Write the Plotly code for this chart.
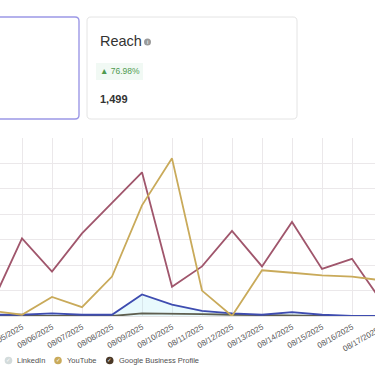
import plotly.graph_objects as go

W, H = 375, 366

dates = ["2025-08-04", "2025-08-05", "2025-08-06", "2025-08-07", "2025-08-08",
         "2025-08-09", "2025-08-10", "2025-08-11", "2025-08-12", "2025-08-13",
         "2025-08-14", "2025-08-15", "2025-08-16", "2025-08-17"]
instagram = [10, 61, 35, 65, 89, 113, 23, 39, 67, 39, 74, 37, 45, 11]
youtube = [4, 1, 15, 7, 31, 87, 124, 20, 0, 36, 34, 32, 31, 28]
facebook = [1, 1, 2, 1, 1, 17, 9, 4, 2, 1, 3, 1, 0, 0]
gbp = [0, 0, 0, 0, 0, 2, 2, 1.5, 1, 0.5, 0.5, 0, 0, 0]

legend_names = ["LinkedIn", "YouTube", "Google Business Profile"]
card_title = "Reach"
card_change = "▲ 76.98%"
card_value = "1,499"
last_tick_label = "08/17/2025"

C_INSTA = "#a0566c"
C_YT = "#c9aa5a"
C_FB = "#3e4cb0"
C_GBP = "#5a4630"
FONT = "Liberation Sans, Arial, sans-serif"
TICK_SIZE = 8


def px(x):
    return x / W


def py(y):
    return 1 - y / H


def rrect(x0, y0, x1, y1, r):
    pts = [
        ("M", [(x0 + r, y0)]), ("L", [(x1 - r, y0)]), ("Q", [(x1, y0), (x1, y0 + r)]),
        ("L", [(x1, y1 - r)]), ("Q", [(x1, y1), (x1 - r, y1)]), ("L", [(x0 + r, y1)]),
        ("Q", [(x0, y1), (x0, y1 - r)]), ("L", [(x0, y0 + r)]), ("Q", [(x0, y0), (x0 + r, y0)]),
    ]
    s = ""
    for cmd, cs in pts:
        s += cmd + " " + " ".join(f"{px(a):.5f},{py(b):.5f}" for a, b in cs) + " "
    return s + "Z"


fig = go.Figure()
fig.add_trace(go.Scatter(x=dates, y=gbp, mode="lines", name="Google Business Profile",
                         line=dict(color=C_GBP, width=1.8)))
fig.add_trace(go.Scatter(x=dates, y=facebook, mode="lines", name="Facebook",
                         line=dict(color=C_FB, width=1.8), fill="tozeroy",
                         fillcolor="rgba(120,225,245,0.16)"))
fig.add_trace(go.Scatter(x=dates, y=instagram, mode="lines", name="Instagram",
                         line=dict(color=C_INSTA, width=1.8)))
fig.add_trace(go.Scatter(x=dates, y=youtube, mode="lines", name="YouTube",
                         line=dict(color=C_YT, width=1.8)))

shapes = []
annotations = []

# cards
shapes.append(dict(type="path", xref="paper", yref="paper",
                   path=rrect(-20, 17, 79, 119, 4),
                   line=dict(color="#9c98e6", width=1.4), fillcolor="white", layer="below"))
shapes.append(dict(type="path", xref="paper", yref="paper",
                   path=rrect(87, 17, 297, 119, 4),
                   line=dict(color="#e4e4e4", width=1), fillcolor="white", layer="below"))
# change badge background
shapes.append(dict(type="rect", xref="paper", yref="paper",
                   x0=px(96), x1=px(143), y0=py(80), y1=py(63),
                   line=dict(width=0), fillcolor="#f1f9f4", layer="below"))
# info icon
shapes.append(dict(type="circle", xref="paper", yref="paper",
                   x0=px(144), x1=px(151), y0=py(45.5), y1=py(38.5),
                   line=dict(width=0), fillcolor="#9a9a9a"))
annotations.append(dict(xref="paper", yref="paper", x=px(147.5), y=py(42), text="i",
                        showarrow=False, font=dict(family=FONT, size=6, color="white"),
                        xanchor="center", yanchor="middle"))

annotations.append(dict(xref="paper", yref="paper", x=px(98), y=py(41), text=card_title,
                        showarrow=False, font=dict(family=FONT, size=14.5, color="#333333"),
                        xanchor="left", yanchor="middle"))
annotations.append(dict(xref="paper", yref="paper", x=px(98), y=py(71), text=card_change,
                        showarrow=False, font=dict(family=FONT, size=8.5, color="#4f9a4f"),
                        xanchor="left", yanchor="middle"))
annotations.append(dict(xref="paper", yref="paper", x=px(98), y=py(99),
                        text="<b>" + card_value + "</b>",
                        showarrow=False, font=dict(family=FONT, size=11, color="#333333"),
                        xanchor="left", yanchor="middle"))

# clipped last tick label
annotations.append(dict(xref="paper", yref="paper", x=px(384), y=py(323), text=last_tick_label,
                        showarrow=False, textangle=-30,
                        font=dict(family=FONT, size=TICK_SIZE, color="#555555"),
                        xanchor="right", yanchor="top"))

# custom legend
leg_icons = [(8.5, "#d3dbdb"), (58, C_YT), (109.7, "#4a3826")]
leg_text_x = [15, 65, 117]
for (cx, col), tx, name in zip(leg_icons, leg_text_x, legend_names):
    shapes.append(dict(type="circle", xref="paper", yref="paper",
                       x0=px(cx - 3.8), x1=px(cx + 3.8), y0=py(364.3), y1=py(356.7),
                       line=dict(width=0), fillcolor=col))
    annotations.append(dict(xref="paper", yref="paper", x=px(cx), y=py(360.3), text="✓",
                            showarrow=False, font=dict(family="DejaVu Sans", size=5.5, color="white"),
                            xanchor="center", yanchor="middle"))
    annotations.append(dict(xref="paper", yref="paper", x=px(tx), y=py(360.5), text=name,
                            showarrow=False, font=dict(family=FONT, size=7.5, color="#505050"),
                            xanchor="left", yanchor="middle"))

fig.update_layout(
    width=W, height=H,
    margin=dict(l=0, r=0, t=0, b=0),
    paper_bgcolor="white", plot_bgcolor="white",
    showlegend=False,
    shapes=shapes, annotations=annotations,
    xaxis=dict(type="date", domain=[0, 1],
               range=["2025-08-04 06:24", "2025-08-16 18:24"],
               tick0="2025-08-05", dtick=86400000, tickformat="%m/%d/%Y",
               tickangle=-30, tickfont=dict(family=FONT, size=TICK_SIZE, color="#555555"),
               ticklabelstandoff=4, ticklabeloverflow="allow",
               showgrid=True, gridcolor="#ebe8ea", gridwidth=1,
               showline=False, zeroline=False, ticks="", automargin=False),
    yaxis=dict(domain=[py(316), py(138)], range=[0, 140], dtick=20,
               showgrid=True, gridcolor="#ebe8ea", gridwidth=1,
               zeroline=True, zerolinecolor="#e4e4e4", zerolinewidth=1,
               showticklabels=False, ticks="", automargin=False),
)

fig.write_html(
    "out.html",
    config={"displayModeBar": False},
    post_script="document.body.style.margin='0';document.body.style.overflow='hidden';",
)
